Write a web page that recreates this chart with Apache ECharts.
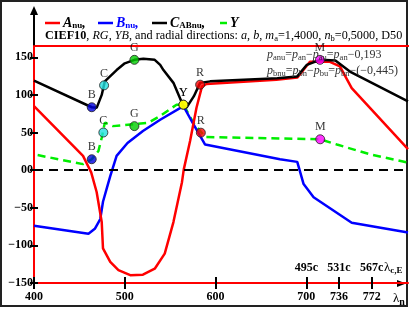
<!DOCTYPE html>
<html><head><meta charset="utf-8">
<script src="https://cdn.jsdelivr.net/npm/echarts@6/dist/echarts.min.js"></script>
<style>html,body{margin:0;padding:0;background:#fff}#c{width:409px;height:309px}</style>
</head><body><div id="c"></div>
<script>
// ---- data ----
const wlA  = [400,454,463,469,474.6,476,484,493,506,520,533,544,553.6,563,565,572,579,585,590,667,690,704,726,737,750,812];
const valA = [85,19,-3,-29,-69,-104,-122,-133,-139.6,-139,-131,-111,-69,-16,1,39,83,111,114.5,120,123,144,144,138,109,28];
const wlB  = [400,460,467,473,476,480,484,491,503,520,539,564.6,575.6,588.5,671,690,697,708,750,812];
const valB = [-74,-84.5,-78,-65,-42,-25,-8,19,36,52,67,85,61,34,14.5,11,-18.5,-36,-70,-83];
const wlC  = [400,463.6,469,474.6,478,491,500,510.6,520.5,533,539,542.6,553.6,564.6,568,576,583,594,668,690,700.6,715,732,748,812];
const valC = [119,83.6,82.8,100,118,133,142,146.6,148,146.6,140,133,116,85,83,98,116,118,122,124.6,140,146.6,145.7,131,91.5];
const wlY  = [404,454,463.6,471,474.6,478,487,526,539,557,564.6,575.6,588.5,715,733.7,770.5,812];
const valY = [20,8,14.5,25.5,43,63,58.5,63,72,87,87,63,44,41,34,21,10];
const markNames = ['B','C','G','Y','R','M'];
const markWlC  = [463.6,477.2,510.6,564.6,583,715];
const markValC = [83.6,112.7,146.6,87,113.6,146.6];
const markWlY  = [463.6,476.4,510.6,564.6,583.8,715.3];
const markValY = [14.5,50,58.5,87,49.8,41];
const xTicks = [400,500,600,700,736,772];
const xTickLabels = ['400','500','600','700','736','772'];
const xTopTicks = [700,736,772];
const xTopLabels = ['495c','531c','567c'];
const yTicks = [-150,-100,-50,0,50,100,150];
const yTickLabels = ['\u2212150','\u2212100','\u221250','00','50','100','150'];

// ---- styles ----
const FONT = 'Liberation Serif';
const markColors = {B:'#0000dd',C:'#22e0e0',G:'#00cc00',Y:'#ffff00',R:'#ff0000',M:'#ff00ff'};
const zip = (xs, ys) => xs.map((x,i)=>[x, ys[i]]);
const marks = (xs, ys) => xs.map((x,i)=>({name:markNames[i], value:[x, ys[i]],
  itemStyle:{color:markColors[markNames[i]], borderColor:'#222', borderWidth:1}}));

const chart = echarts.init(document.getElementById('c'), null, {renderer:'canvas'});
const XMIN=400, XMAX=812, YMIN=-150, YMAX=165;
const labelFont = {fontFamily:FONT, fontWeight:'bold', fontSize:12, color:'#000'};
const subRich = (size, extra) => Object.assign({fontFamily:FONT, fontSize:size, padding:[6,0,0,0]}, extra||{});

chart.setOption({
  animation:false,
  grid:{left:34, right:1, top:46, bottom:26},
  xAxis:[
    {type:'value', min:XMIN, max:XMAX, position:'bottom',
     axisLine:{show:true, onZero:false, lineStyle:{color:'#ff0000', width:2}},
     axisTick:{show:true, length:6, lineStyle:{color:'#000', width:2}, customValues:xTicks},
     axisLabel:Object.assign({margin:8, customValues:xTicks,
       formatter:v=>xTickLabels[xTicks.indexOf(v)]||''}, labelFont),
     splitLine:{show:false}},
    {type:'value', min:XMIN, max:XMAX, position:'bottom', offset:0,
     axisLine:{show:false, onZero:false},
     axisTick:{show:true, inside:true, length:6, lineStyle:{color:'#000', width:2}, customValues:xTicks},
     axisLabel:Object.assign({inside:true, margin:9, customValues:xTopTicks,
       formatter:v=>xTopLabels[xTopTicks.indexOf(v)]||''}, labelFont),
     splitLine:{show:false}}
  ],
  yAxis:[
    {type:'value', min:YMIN, max:YMAX, position:'left',
     axisLine:{show:true, onZero:false, lineStyle:{color:'#ff0000', width:2}},
     axisTick:{show:true, length:4, lineStyle:{color:'#000', width:2}, customValues:yTicks},
     axisLabel:Object.assign({margin:1, customValues:yTicks,
       formatter:v=>yTickLabels[yTicks.indexOf(v)]||''}, labelFont),
     splitLine:{show:false}},
    {type:'value', min:YMIN, max:YMAX, position:'left', offset:0,
     axisLine:{show:false, onZero:false},
     axisTick:{show:true, inside:true, length:4, lineStyle:{color:'#000', width:2}, customValues:yTicks},
     axisLabel:{show:false}, splitLine:{show:false}}
  ],
  series:[
    {type:'line', name:'Y', data:zip(wlY,valY), showSymbol:false, z:2,
     lineStyle:{color:'#00ee00', width:2.5, type:[8,5]}},
    {type:'line', name:'B', data:zip(wlB,valB), showSymbol:false, z:3,
     lineStyle:{color:'#0000ff', width:2.5}},
    {type:'line', name:'A', data:zip(wlA,valA), showSymbol:false, z:3,
     lineStyle:{color:'#ff0000', width:2.5}},
    {type:'line', name:'C', data:zip(wlC,valC), showSymbol:false, z:4,
     lineStyle:{color:'#000000', width:2.5},
     markLine:{silent:true, symbol:'none', label:{show:false},
       lineStyle:{color:'#000', width:2, type:[9,6]}, data:[{yAxis:0}]}},
    {type:'scatter', data:marks(markWlC,markValC), symbolSize:9, z:6,
     label:{show:true, position:'top', distance:1, formatter:p=>p.name,
       fontFamily:FONT, fontSize:12, color:'#000'}},
    {type:'scatter', data:marks(markWlY,markValY), symbolSize:9, z:6,
     label:{show:true, position:'top', distance:1, formatter:p=>p.name,
       fontFamily:FONT, fontSize:12, color:'#000'}}
  ],
  graphic:[
    {type:'rect', shape:{x:1,y:1,width:406,height:305}, style:{fill:'none', stroke:'#222', lineWidth:2}, silent:true},
    {type:'line', shape:{x1:34,y1:46,x2:409,y2:46}, style:{stroke:'#ff0000', lineWidth:2}},
    {type:'line', shape:{x1:34,y1:46,x2:34,y2:12}, style:{stroke:'#000', lineWidth:2}},
    {type:'polygon', shape:{points:[[30,15],[34,6],[38,15]]}, style:{fill:'#000'}},
    {type:'polygon', shape:{points:[[397,280],[406,283.5],[397,287]]}, style:{fill:'#000'}},
    // legend
    {type:'line', shape:{x1:45,y1:23,x2:60,y2:23}, style:{stroke:'#ff0000', lineWidth:2.5}},
    {type:'line', shape:{x1:98,y1:23,x2:113,y2:23}, style:{stroke:'#0000ff', lineWidth:2.5}},
    {type:'line', shape:{x1:152,y1:23,x2:167,y2:23}, style:{stroke:'#000', lineWidth:2.5}},
    {type:'line', shape:{x1:220,y1:23,x2:227,y2:23}, style:{stroke:'#00ee00', lineWidth:2.5}},
    {type:'text', x:63, y:23, style:{text:'{m|A}{s|nu}{m|,}', fill:'#000', verticalAlign:'middle',
      rich:{m:{fontFamily:FONT, fontSize:14, fontWeight:'bold', fontStyle:'italic', fill:'#000'}, s:subRich(9,{fontWeight:'bold', fill:'#000'})}}},
    {type:'text', x:116, y:23, style:{text:'{m|B}{s|nu}{m|,}', fill:'#0000ff', verticalAlign:'middle',
      rich:{m:{fontFamily:FONT, fontSize:14, fontWeight:'bold', fontStyle:'italic', fill:'#0000ff'}, s:subRich(9,{fontWeight:'bold', fill:'#0000ff'})}}},
    {type:'text', x:170, y:23, style:{text:'{m|C}{s|ABnu}{m|,}', fill:'#000', verticalAlign:'middle',
      rich:{m:{fontFamily:FONT, fontSize:14, fontWeight:'bold', fontStyle:'italic', fill:'#000'}, s:subRich(9,{fontWeight:'bold', fill:'#000'})}}},
    {type:'text', x:230, y:23, style:{text:'{m|Y}', fill:'#000', verticalAlign:'middle',
      rich:{m:{fontFamily:FONT, fontSize:14, fontWeight:'bold', fontStyle:'italic', fill:'#000'}}}},
    // subtitle
    {type:'text', x:45, y:36, style:{verticalAlign:'middle',
      text:'{b|CIEF10}{n|, }{i|RG}{n|, }{i|YB}{n|, and radial directions: }{bi|a}{n|, }{bi|b}{n|, }{i|m}{s|a}{n|=1,4000, }{i|n}{s|b}{n|=0,5000, D50}',
      rich:{b:{fontFamily:FONT,fontSize:12.2,fontWeight:'bold',fill:'#000'},
            n:{fontFamily:FONT,fontSize:12.2,fill:'#000'},
            i:{fontFamily:FONT,fontSize:12.2,fontStyle:'italic',fill:'#000'},
            bi:{fontFamily:FONT,fontSize:12.2,fontStyle:'italic',fill:'#000'},
            s:subRich(8.5,{fill:'#000'})}}},
    // annotations
    {type:'text', x:267, y:55, z:10, style:{verticalAlign:'middle',
      text:'{i|p}{s|anu}{n|=}{i|p}{s|an}{n|\u2212}{i|p}{s|au}{n|=}{i|p}{s|an}{n|\u22120,193}',
      rich:{n:{fontFamily:FONT,fontSize:12,fill:'#333'}, i:{fontFamily:FONT,fontSize:12,fontStyle:'italic',fill:'#333'}, s:subRich(8.5,{fill:'#333'})}}},
    {type:'text', x:267, y:71, z:10, style:{verticalAlign:'middle',
      text:'{i|p}{s|bnu}{n|=}{i|p}{s|bn}{n|\u2212}{i|p}{s|bu}{n|=}{i|p}{s|bn}{n|\u2212(\u22120,445)}',
      rich:{n:{fontFamily:FONT,fontSize:12,fill:'#333'}, i:{fontFamily:FONT,fontSize:12,fontStyle:'italic',fill:'#333'}, s:subRich(8.5,{fill:'#333'})}}},
    // axis names
    {type:'text', x:384, y:268, style:{verticalAlign:'middle', text:'{m|\u03bb}{s|c,E}',
      rich:{m:{fontFamily:FONT,fontSize:13,fill:'#000'}, s:subRich(9,{fontWeight:'bold',fill:'#000'})}}},
    {type:'text', x:393, y:299, style:{verticalAlign:'middle', text:'{m|\u03bb}{s|n}',
      rich:{m:{fontFamily:FONT,fontSize:13,fill:'#000'}, s:subRich(10,{fontWeight:'bold',fill:'#000'})}}}
  ]
});
</script></body></html>
